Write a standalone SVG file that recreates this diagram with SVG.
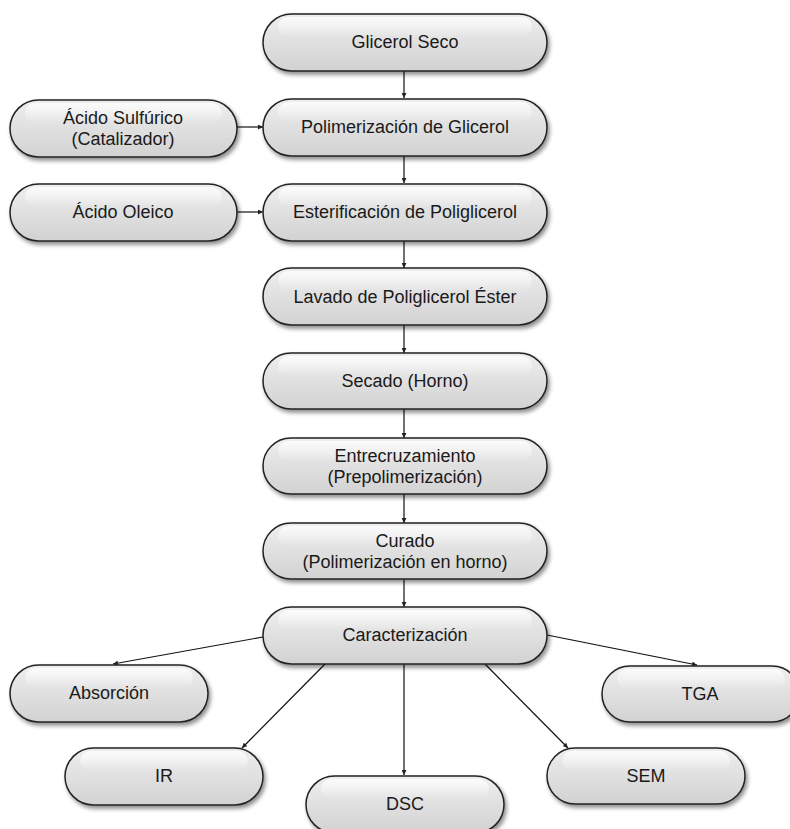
<svg xmlns="http://www.w3.org/2000/svg" width="790" height="829" viewBox="0 0 790 829">
<defs>
<linearGradient id="fill" x1="0" y1="0" x2="0" y2="1">
<stop offset="0" stop-color="#eeeeee"/>
<stop offset="1" stop-color="#d2d2d2"/>
</linearGradient>
<linearGradient id="gloss" x1="0" y1="0" x2="0" y2="1">
<stop offset="0" stop-color="#ffffff" stop-opacity="0.8"/>
<stop offset="1" stop-color="#ffffff" stop-opacity="0"/>
</linearGradient>
<filter id="sh" x="-10%" y="-20%" width="125%" height="160%">
<feGaussianBlur in="SourceAlpha" stdDeviation="2"/>
<feOffset dx="2" dy="3" result="b"/>
<feComponentTransfer><feFuncA type="linear" slope="0.45"/></feComponentTransfer>
<feMerge><feMergeNode/><feMergeNode in="SourceGraphic"/></feMerge>
</filter>
<marker id="ah" viewBox="0 0 6 6" refX="6" refY="3" markerWidth="5" markerHeight="5" markerUnits="userSpaceOnUse" orient="auto">
<path d="M0,0 L6,3 L0,6 z" fill="#222"/>
</marker>
</defs>
<style>
.n rect.b{fill:url(#fill);stroke:#222;stroke-width:1.5;filter:url(#sh)}
.n rect.g{fill:url(#gloss);stroke:none}
.n text{font-family:"Liberation Sans",Arial,sans-serif;font-size:18px;fill:#1a1a1a;text-anchor:middle}
.c line{stroke:#111;stroke-width:1.2;marker-end:url(#ah)}
</style>
<rect width="790" height="829" fill="#ffffff"/>
<g class="c" id="connectors">
<line x1="404" y1="71" x2="404" y2="98"/>
<line x1="404" y1="156" x2="404" y2="183"/>
<line x1="404" y1="241" x2="404" y2="268"/>
<line x1="404" y1="325" x2="404" y2="353"/>
<line x1="404" y1="409" x2="404" y2="438"/>
<line x1="404" y1="494" x2="404" y2="523"/>
<line x1="404" y1="579" x2="404" y2="607"/>
<line x1="237" y1="127" x2="263" y2="127"/>
<line x1="237" y1="212" x2="263" y2="212"/>
<line x1="263" y1="637" x2="113" y2="664"/>
<line x1="325" y1="664" x2="242" y2="748"/>
<line x1="404" y1="664" x2="404" y2="775"/>
<line x1="485" y1="664" x2="568" y2="748"/>
<line x1="547" y1="635" x2="697" y2="665"/>
</g>
<g class="n" id="glicerol-seco"><rect class="b" x="263" y="14" width="284" height="57" rx="28.5"/><rect class="g" x="278" y="17" width="254" height="20" rx="10"/><text x="405" y="48">Glicerol Seco</text></g>
<g class="n" id="polimerizacion"><rect class="b" x="263" y="99" width="284" height="57" rx="28.5"/><rect class="g" x="278" y="102" width="254" height="20" rx="10"/><text x="405" y="133">Polimerización de Glicerol</text></g>
<g class="n" id="acido-sulfurico"><rect class="b" x="10" y="100" width="227" height="57" rx="28.5"/><rect class="g" x="25" y="103" width="197" height="20" rx="10"/><text x="123" y="124">Ácido Sulfúrico</text><text x="123" y="145">(Catalizador)</text></g>
<g class="n" id="esterificacion"><rect class="b" x="263" y="184" width="284" height="57" rx="28.5"/><rect class="g" x="278" y="187" width="254" height="20" rx="10"/><text x="405" y="218">Esterificación de Poliglicerol</text></g>
<g class="n" id="acido-oleico"><rect class="b" x="10" y="184" width="227" height="57" rx="28.5"/><rect class="g" x="25" y="187" width="197" height="20" rx="10"/><text x="123" y="218">Ácido Oleico</text></g>
<g class="n" id="lavado"><rect class="b" x="263" y="268" width="284" height="57" rx="28.5"/><rect class="g" x="278" y="271" width="254" height="20" rx="10"/><text x="405" y="303">Lavado de Poliglicerol Éster</text></g>
<g class="n" id="secado"><rect class="b" x="263" y="353" width="284" height="56" rx="28"/><rect class="g" x="278" y="356" width="254" height="20" rx="10"/><text x="405" y="387">Secado (Horno)</text></g>
<g class="n" id="entrecruzamiento"><rect class="b" x="263" y="438" width="284" height="56" rx="28"/><rect class="g" x="278" y="441" width="254" height="20" rx="10"/><text x="405" y="462">Entrecruzamiento</text><text x="405" y="483">(Prepolimerización)</text></g>
<g class="n" id="curado"><rect class="b" x="263" y="523" width="284" height="56" rx="28"/><rect class="g" x="278" y="526" width="254" height="20" rx="10"/><text x="405" y="547">Curado</text><text x="405" y="568">(Polimerización en horno)</text></g>
<g class="n" id="caracterizacion"><rect class="b" x="263" y="607" width="284" height="57" rx="28.5"/><rect class="g" x="278" y="610" width="254" height="20" rx="10"/><text x="405" y="641">Caracterización</text></g>
<g class="n" id="absorcion"><rect class="b" x="10" y="665" width="198" height="57" rx="28.5"/><rect class="g" x="25" y="668" width="168" height="20" rx="10"/><text x="109" y="699">Absorción</text></g>
<g class="n" id="tga"><rect class="b" x="602" y="666" width="198" height="56" rx="28"/><rect class="g" x="617" y="669" width="168" height="20" rx="10"/><text x="700" y="700">TGA</text></g>
<g class="n" id="ir"><rect class="b" x="65" y="748" width="198" height="57" rx="28.5"/><rect class="g" x="80" y="751" width="168" height="20" rx="10"/><text x="164" y="782">IR</text></g>
<g class="n" id="sem"><rect class="b" x="547" y="748" width="198" height="56" rx="28"/><rect class="g" x="562" y="751" width="168" height="20" rx="10"/><text x="646" y="782">SEM</text></g>
<g class="n" id="dsc"><rect class="b" x="306" y="776" width="198" height="57" rx="28.5"/><rect class="g" x="321" y="779" width="168" height="20" rx="10"/><text x="405" y="810">DSC</text></g>
</svg>
